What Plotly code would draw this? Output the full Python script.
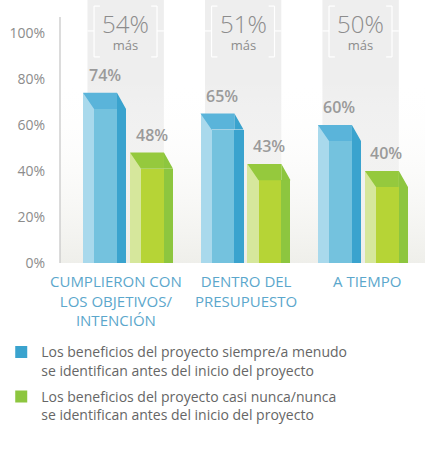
import plotly.graph_objects as go

# ---------------- data ----------------
categories = ["CUMPLIERON CON<br>LOS OBJETIVOS/<br>INTENCIÓN", "DENTRO DEL<br>PRESUPUESTO", "A TIEMPO"]
siempre = [74, 65, 60]
nunca = [48, 43, 40]
mas_pct = ["54%", "51%", "50%"]
mas_word = "más"
series_names = [
    "Los beneficios del proyecto siempre/a menudo<br>se identifican antes del inicio del proyecto",
    "Los beneficios del proyecto casi nunca/nunca<br>se identifican antes del inicio del proyecto",
]
y_ticks = [0, 20, 40, 60, 80, 100]
y_tick_text = [f"{v}%" for v in y_ticks]

# ---------------- style ----------------
FONT = "Open Sans"
X_RANGE = [-0.579, 2.528]
Y_RANGE = [0, 114.35]
DEPTH = 7
GEOM = [(-0.383, -0.289, -0.094, -0.017), (0.017, 0.111, 0.306, 0.383)]
COLORS = [
    dict(left="#a9d9ec", front="#74c2de", right="#3aa3ce", top="#5ab4da"),
    dict(left="#d6e79c", front="#b6d436", right="#8dc63f", top="#95c93d"),
]
LABEL_XSHIFT = [-12, 0, 4]

xs = list(range(len(categories)))
series = [siempre, nunca]

fig = go.Figure()

# background gradient in lower part of plot (white at top -> light grey at bottom), kept under the bars
fig.add_trace(go.Scatter(
    x=[X_RANGE[0], X_RANGE[1], X_RANGE[1], X_RANGE[0]], y=[0, 0, 80, 80],
    mode="lines", fill="toself", line=dict(width=0), zorder=-1,
    fillgradient=dict(type="vertical",
                      colorscale=[[0, "rgba(237,237,232,0.9)"], [1, "rgba(255,255,255,0)"]]),
    hoverinfo="skip", showlegend=False))

for s, vals in enumerate(series):
    a, b, c, d = GEOM[s]
    col = COLORS[s]
    fig.add_trace(go.Bar(x=[i + (a + b) / 2 for i in xs], y=vals, width=b - a,
                         marker=dict(color=col["left"], line=dict(width=0)),
                         showlegend=False, hoverinfo="skip"))
    fig.add_trace(go.Bar(x=[i + (b + c) / 2 for i in xs], y=[v - DEPTH for v in vals], width=c - b,
                         marker=dict(color=col["front"], line=dict(width=0)),
                         showlegend=False, hoverinfo="skip"))
    fig.add_trace(go.Bar(x=[i + (c + d) / 2 for i in xs], y=[v - DEPTH for v in vals], width=d - c,
                         marker=dict(color=col["right"], line=dict(width=0)),
                         name=series_names[s], legendgroup=str(s), showlegend=True, hoverinfo="skip"))
    tx, ty, rx, ry = [], [], [], []
    for i, v in zip(xs, vals):
        tx += [i + a, i + c, i + c, i + b, i + a, None]
        ty += [v, v, v - DEPTH, v - DEPTH, v, None]
        rx += [i + c, i + d, i + c, i + c, None]
        ry += [v, v - DEPTH, v - DEPTH, v, None]
    fig.add_trace(go.Scatter(x=tx, y=ty, mode="lines", fill="toself", fillcolor=col["top"],
                             line=dict(width=0, color=col["top"]), showlegend=False, hoverinfo="skip"))
    fig.add_trace(go.Scatter(x=rx, y=ry, mode="lines", fill="toself", fillcolor=col["right"],
                             line=dict(width=0, color=col["right"]), showlegend=False, hoverinfo="skip"))

annotations = []
shapes = []
for i in xs:
    for s, vals in enumerate(series):
        a, b, c, d = GEOM[s]
        annotations.append(dict(x=i + (a + d) / 2, y=vals[i], yshift=18, text=f"{vals[i]}%",
                                showarrow=False, font=dict(family=FONT, size=16, color="#9a9a9a", weight=600)))
    # "xx% más" badge as one two-line text
    annotations.append(dict(x=i - 0.02, y=100.9,
                            text=f"<span style='font-size:24px;font-weight:300'>{mas_pct[i]}</span><br>{mas_word}",
                            showarrow=False, align="center",
                            font=dict(family=FONT, size=13, color="#8c8c8c")))
    annotations.append(dict(x=i, y=0, yref="y", yshift=-6, yanchor="top", xshift=LABEL_XSHIFT[i],
                            text=categories[i], showarrow=False, align="center",
                            font=dict(family=FONT, size=15, color="#5ba7cc", weight=500)))
    shapes.append(dict(type="rect", xref="x", yref="y", x0=i - 0.345, x1=i + 0.305,
                       y0=0, y1=Y_RANGE[1], fillcolor="#eeeeee", line=dict(width=0), layer="below"))
    bl, br, bt, bb, serif, mid = i - 0.289, i + 0.247, 111.7, 89.6, 0.05, 100.9
    line = dict(color="#ffffff", width=1.2)
    for x0, x1, y0, y1 in [(bl, bl, bb, bt), (br, br, bb, bt),
                           (bl, bl + serif, bt, bt), (bl, bl + serif, bb, bb),
                           (br - serif, br, bt, bt), (br - serif, br, bb, bb),
                           (i - 0.345, bl, mid, mid), (br, i + 0.305, mid, mid)]:
        shapes.append(dict(type="line", xref="x", yref="y", x0=x0, x1=x1, y0=y0, y1=y1,
                           line=line, layer="below"))

shapes.append(dict(type="line", xref="paper", yref="paper", x0=0, x1=0, y0=0, y1=107 / Y_RANGE[1],
                   line=dict(color="#c4c4c4", width=1.2)))

fig.update_layout(
    width=425, height=463,
    margin=dict(l=60, r=0, t=0, b=200),
    paper_bgcolor="white", plot_bgcolor="white",
    barmode="overlay", bargap=0,
    showlegend=True,
    legend=dict(x=-0.161, y=-0.279, xanchor="left", yanchor="top", valign="top",
                font=dict(family=FONT, size=14, color="#666666"),
                tracegroupgap=5, bgcolor="rgba(0,0,0,0)", itemclick=False, itemdoubleclick=False),
    xaxis=dict(range=X_RANGE, showticklabels=False, showgrid=False, zeroline=False,
               showline=True, linecolor="#b8b8b8", linewidth=1.5, ticks=""),
    yaxis=dict(range=Y_RANGE, tickvals=y_ticks, ticktext=y_tick_text, showgrid=False, zeroline=False,
               showline=False, ticks="", ticklabelstandoff=14,
               tickfont=dict(family=FONT, size=14, color="#8c8c8c")),
    annotations=annotations, shapes=shapes,
)

fig.write_html("out.html", config={"displayModeBar": False},
               post_script="document.body.style.margin='0';")
